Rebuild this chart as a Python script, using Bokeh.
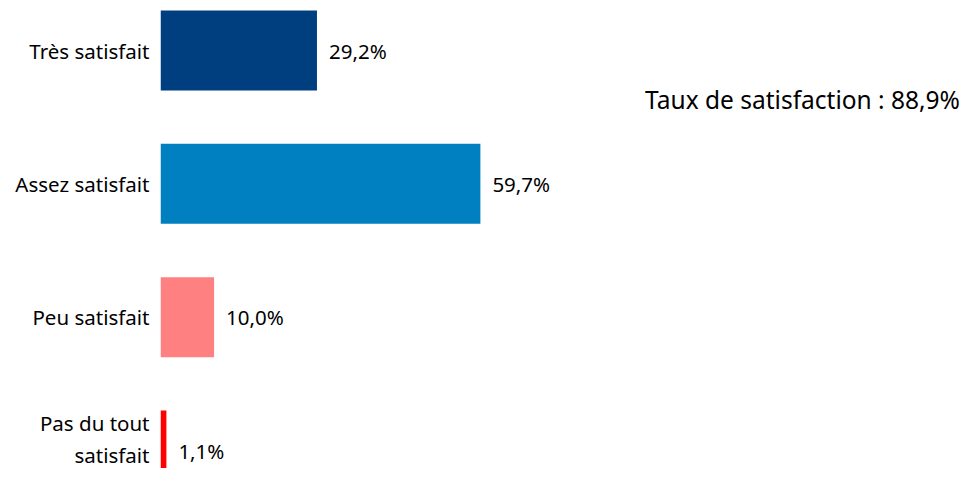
from bokeh.plotting import figure
from bokeh.models import Range1d, FixedTicker, Label, ColumnDataSource
from bokeh.core.properties import value
from bokeh.embed import file_html
from bokeh.resources import INLINE

categories = ["Très satisfait", "Assez satisfait", "Peu satisfait", "Pas du tout\nsatisfait"]
values = [29.2, 59.7, 10.0, 1.1]
value_labels = ["29,2%", "59,7%", "10,0%", "1,1%"]
colors = ["#003F7F", "#0080C0", "#FF8080", "#FF0000"]
summary_text = "Taux de satisfaction : 88,9%"

FONT = "Noto Sans"

positions = list(range(len(categories)))
src = ColumnDataSource(dict(y=positions, v=values, lab=value_labels, c=colors))

p = figure(width=960, height=468, output_backend="svg", toolbar_location=None,
           x_range=Range1d(0, 149.3), y_range=Range1d(start=3.135, end=-0.375),
           x_axis_location=None, min_border_left=160, min_border_right=0,
           min_border_top=0, min_border_bottom=0)
p.outline_line_color = None
p.xgrid.visible = False
p.ygrid.visible = False
p.background_fill_color = "white"
p.border_fill_color = "white"

p.hbar(y="y", left=0, right="v", height=0.6, fill_color="c", line_color=None, source=src)

p.text(x="v", y="y", text="lab", source=src, x_offset=12, text_align="left",
       text_baseline="middle", text_font=value(FONT), text_font_size="20.5px",
       text_color="#000000")

ax = p.yaxis[0]
ax.ticker = FixedTicker(ticks=positions)
ax.major_label_overrides = {i: c for i, c in enumerate(categories)}
ax.axis_line_color = None
ax.major_tick_line_color = None
ax.minor_tick_line_color = None
ax.major_tick_out = 0
ax.major_tick_in = 0
ax.major_label_standoff = 11
ax.major_label_text_font = FONT
ax.major_label_text_font_size = "20.5px"
ax.major_label_text_color = "#000000"
ax.major_label_text_line_height = 1.12

p.add_layout(Label(x=149.2, y=0.3675, text=summary_text, text_align="right",
                   text_baseline="middle", text_font=FONT, text_font_size="24.5px",
                   text_color="#000000"))

open("out.html", "w").write(file_html(p, INLINE))
